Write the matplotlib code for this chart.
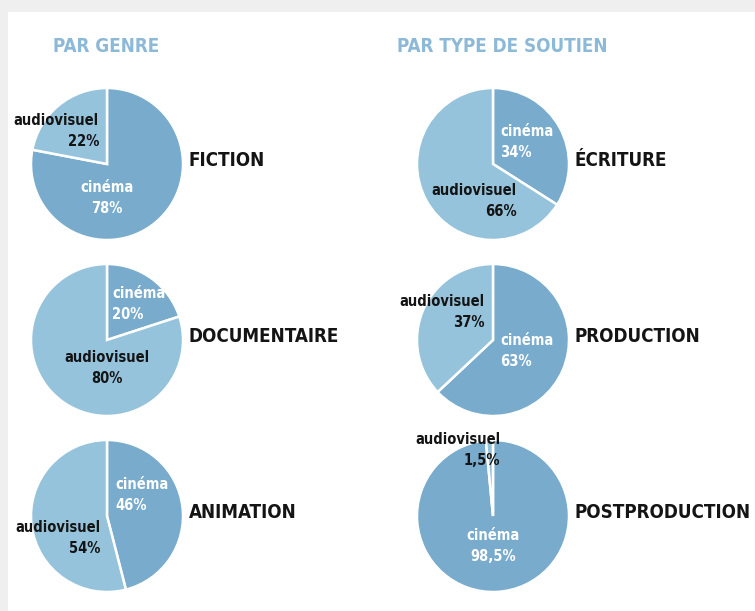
import matplotlib
matplotlib.use('Agg')
import matplotlib.pyplot as plt
from matplotlib.patches import Rectangle

#################
### data ###
#################

genres = ['FICTION', 'DOCUMENTAIRE', 'ANIMATION']
genre_cinema = [78, 20, 46]
genre_audiovisuel = [22, 80, 54]

soutiens = ['ÉCRITURE', 'PRODUCTION', 'POSTPRODUCTION']
soutien_cinema = [34, 63, 98.5]
soutien_audiovisuel = [66, 37, 1.5]

# pct labels as printed (french decimal comma)
soutien_cinema_txt = ['34%', '63%', '98,5%']
soutien_audiovisuel_txt = ['66%', '37%', '1,5%']

#################
### style ###
#################

W, H = 755, 611
col_cinema = '#79abcd'
col_audio = '#95c3dc'
col_title = '#8cb9d8'
col_text = '#141414'

fig = plt.figure(figsize=(W / 100, H / 100), dpi=100)
fig.patch.set_facecolor('#efefef')
ax = fig.add_axes([0, 0, 1, 1])

def py(y):
    # pixel y from top -> data y from bottom
    return H - y

# pie centres (pixels from top-left) and radius
r = 76
left_cx, right_cx = 107, 493
rows_cy = [164, 340, 516]

def draw_pie(cx, cy, cin, aud):
    ax.pie([cin, aud], colors=[col_cinema, col_audio], startangle=90,
           counterclock=False, center=(cx, py(cy)), radius=r,
           wedgeprops=dict(edgecolor='white', linewidth=1.8))

for i in range(3):
    draw_pie(left_cx, rows_cy[i], genre_cinema[i], genre_audiovisuel[i])
    draw_pie(right_cx, rows_cy[i], soutien_cinema[i], soutien_audiovisuel[i])

ax.set_xlim(0, W)
ax.set_ylim(0, H)
ax.set_aspect('equal')
ax.axis('off')

# white panel behind everything
ax.add_patch(Rectangle((8, 0), W - 8, H - 12, facecolor='white',
                       edgecolor='none', zorder=-10))

###########################
### text ###
###########################

def lab(x, y, s, ha, color, size=10.5, ls=1.45):
    ax.text(x, py(y), s, ha=ha, va='center', multialignment=ha, color=color,
            fontsize=size, fontweight='bold', family='DejaVu Sans',
            fontstretch='condensed', linespacing=ls)

# titles
lab(53, 47, 'PAR GENRE', 'left', col_title, 13.5)
lab(397, 47, 'PAR TYPE DE SOUTIEN', 'left', col_title, 13.5)

# category names
for i in range(3):
    lab(189, rows_cy[i] - 4, genres[i], 'left', col_text, 13.5)
    lab(575, rows_cy[i] - 4, soutiens[i], 'left', col_text, 13.5)

# wedge labels, par genre
lab(99, 131, 'audiovisuel\n%d%%' % genre_audiovisuel[0], 'right', col_text)
lab(107, 198, 'cinéma\n%d%%' % genre_cinema[0], 'center', 'white')
lab(112, 304, 'cinéma\n%d%%' % genre_cinema[1], 'left', 'white')
lab(107, 368, 'audiovisuel\n%d%%' % genre_audiovisuel[1], 'center', col_text)
lab(115, 495, 'cinéma\n%d%%' % genre_cinema[2], 'left', 'white')
lab(100, 538, 'audiovisuel\n%d%%' % genre_audiovisuel[2], 'right', col_text)

# wedge labels, par type de soutien
lab(500, 142, 'cinéma\n' + soutien_cinema_txt[0], 'left', 'white')
lab(517, 201, 'audiovisuel\n' + soutien_audiovisuel_txt[0], 'right', col_text)
lab(485, 312, 'audiovisuel\n' + soutien_audiovisuel_txt[1], 'right', col_text)
lab(500, 351, 'cinéma\n' + soutien_cinema_txt[1], 'left', 'white')
lab(500, 450, 'audiovisuel\n' + soutien_audiovisuel_txt[2], 'right', col_text)
lab(493, 546, 'cinéma\n' + soutien_cinema_txt[2], 'center', 'white')

fig.savefig('out.png', dpi=100, facecolor=fig.get_facecolor())
